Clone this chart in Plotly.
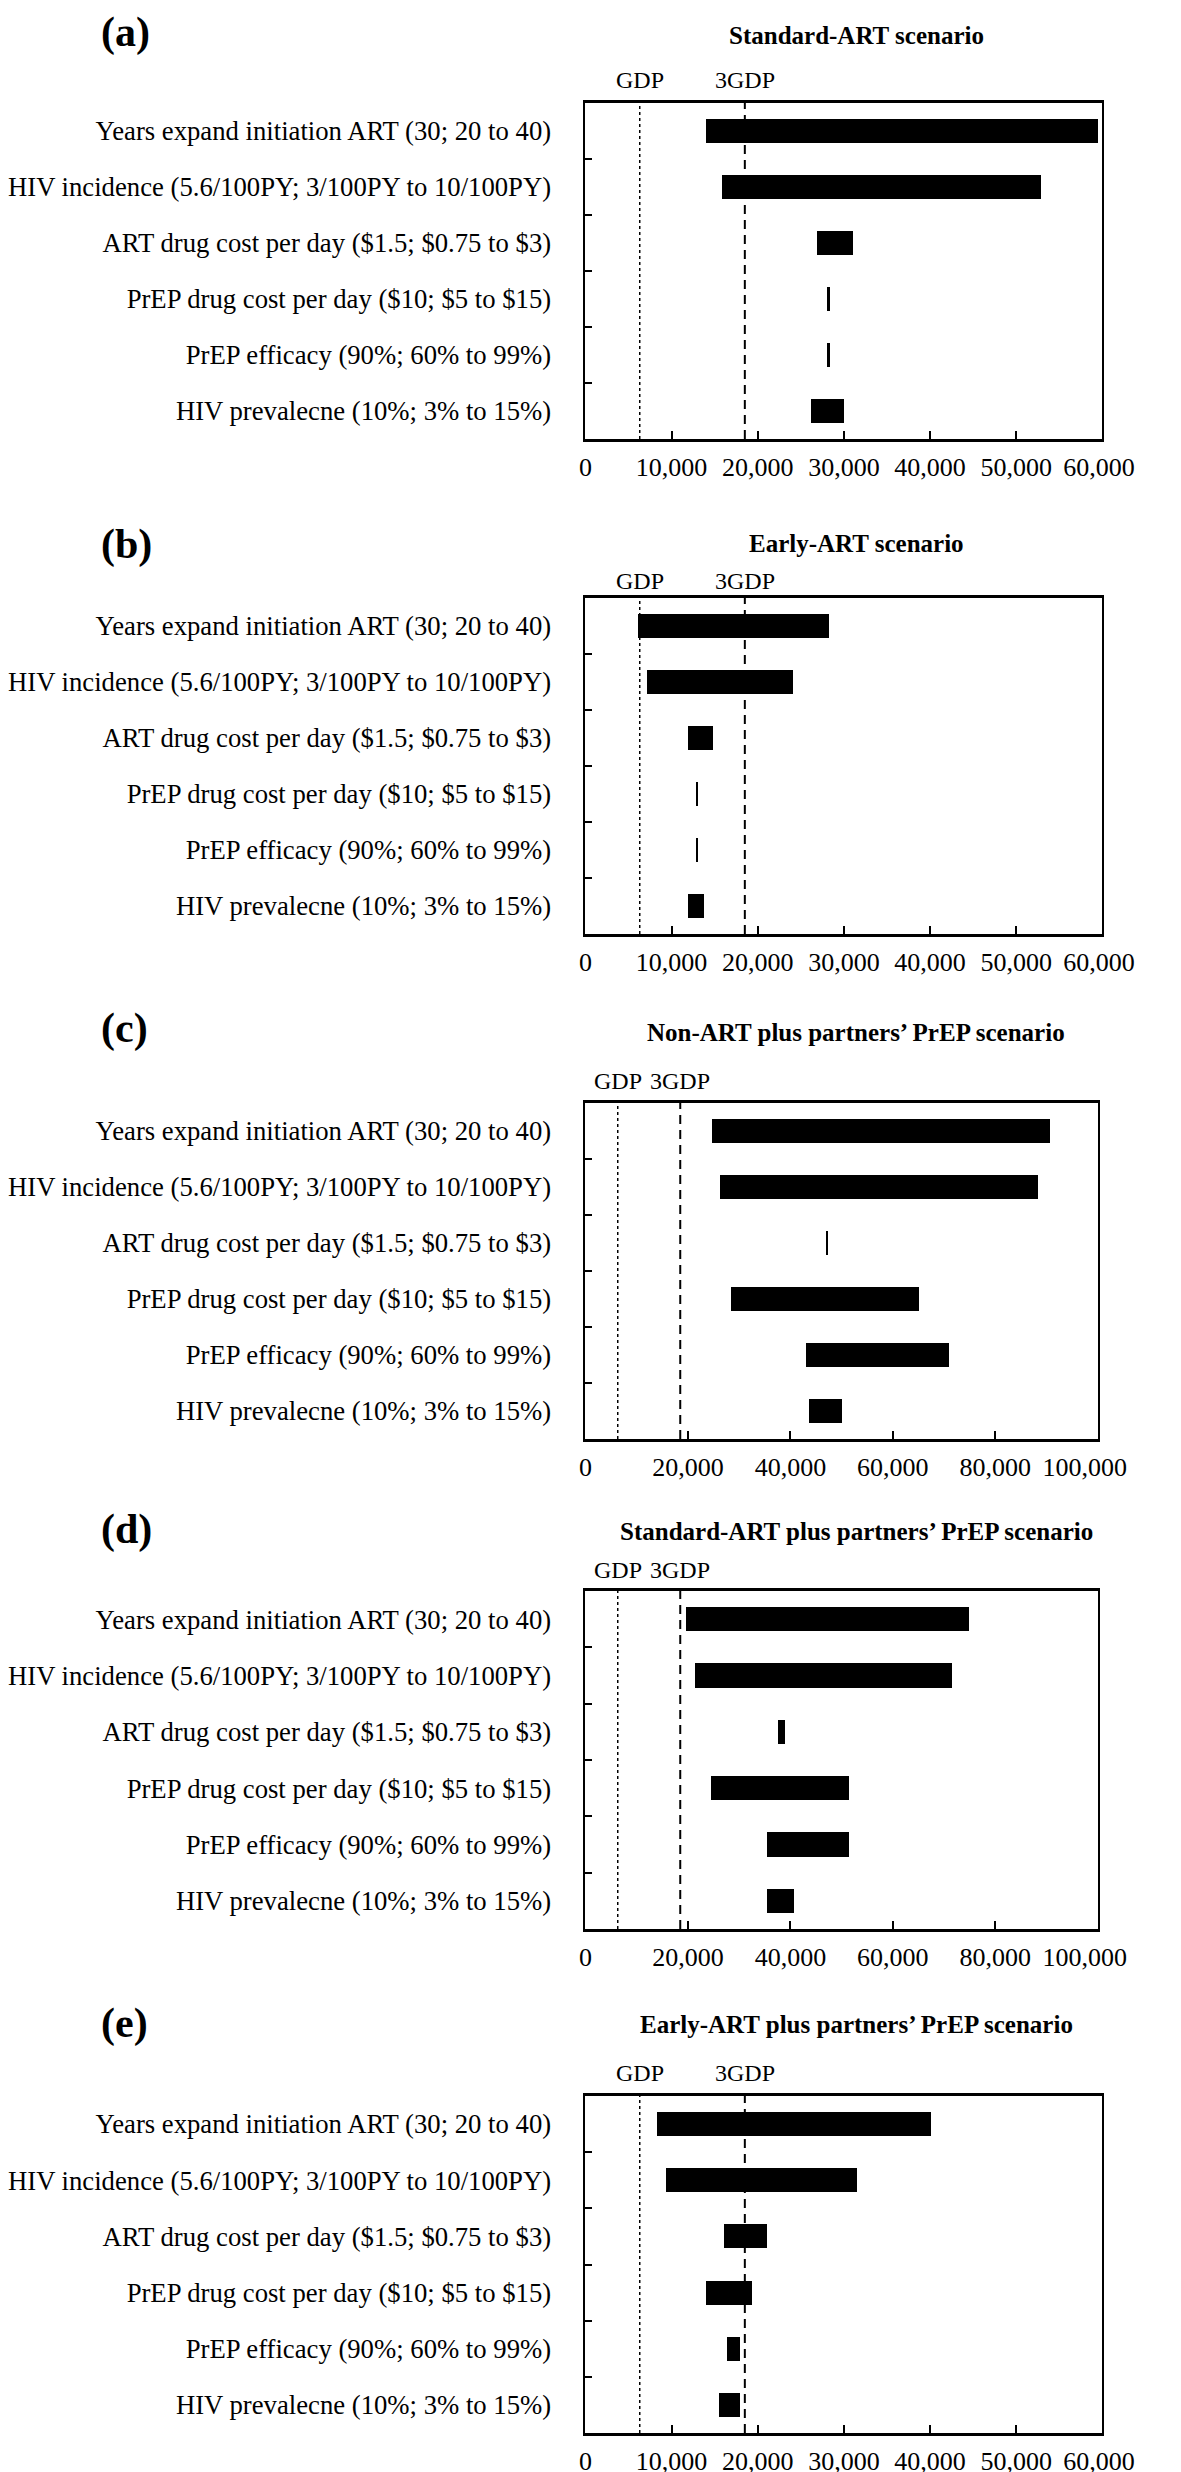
import plotly.graph_objects as go

# ---------------- data ----------------
categories = [
    "Years expand initiation ART (30; 20 to 40)",
    "HIV incidence (5.6/100PY; 3/100PY to 10/100PY)",
    "ART drug cost per day ($1.5; $0.75 to $3)",
    "PrEP drug cost per day ($10; $5 to $15)",
    "PrEP efficacy (90%; 60% to 99%)",
    "HIV prevalecne (10%; 3% to 15%)",
]

panel_letters = ["(a)", "(b)", "(c)", "(d)", "(e)"]
panel_titles = [
    "Standard-ART scenario",
    "Early-ART scenario",
    "Non-ART plus partners\u2019 PrEP scenario",
    "Standard-ART plus partners\u2019 PrEP scenario",
    "Early-ART plus partners\u2019 PrEP scenario",
]

a_low = [14000, 15900, 26900, 28100, 28100, 26200]
a_high = [59500, 52900, 31100, 28450, 28450, 30100]
b_low = [6200, 7200, 11900, 12850, 12850, 12000]
b_high = [28350, 24150, 14900, 13150, 13150, 13800]
c_low = [24700, 26400, 47100, 28400, 43100, 43700]
c_high = [90800, 88500, 47500, 65200, 71100, 50100]
d_low = [19700, 21500, 37700, 24500, 35600, 35500]
d_high = [74900, 71600, 39100, 51500, 51500, 40800]
e_low = [8300, 9400, 16100, 14100, 16500, 15600]
e_high = [40200, 31600, 21100, 19400, 18000, 18000]

lows = [a_low, b_low, c_low, d_low, e_low]
highs = [a_high, b_high, c_high, d_high, e_high]

gdp = 6300
gdp3 = 18500
threshold_labels = ["GDP", "3GDP"]

x_max = [60000, 60000, 100000, 100000, 60000]
x_tickvals_60 = [0, 10000, 20000, 30000, 40000, 50000, 60000]
x_tickvals_100 = [0, 20000, 40000, 60000, 80000, 100000]

# ---------------- layout geometry (pixels) ----------------
W, H = 1181, 2472
box_left = 575
box_right = [1146, 1146, 1141, 1141, 1146]
box_top = [95, 590, 1095, 1583, 2088]
box_bot = [431, 926, 1431, 1921, 2425]
letter_y = [25, 537, 1020, 1521, 2015]
title_y = [27, 535, 1025, 1523, 2017]
gdp_label_y = [72, 573, 1073, 1562, 2065]

FONT = "Liberation Serif, Times New Roman, Times, serif"
NBSP = "\u00a0"


def py(p):
    return 1 - p / H


def tick_text(vals, pad):
    out = [f"{v:,}" for v in vals]
    out[-1] = out[-1] + NBSP * pad   # nudge the right-most label inside the page
    return out


fig = go.Figure()
annotations = []
shapes = []

for i in range(5):
    n = "" if i == 0 else str(i + 1)
    xa, ya = "x" + n, "y" + n
    widths = [h - l for l, h in zip(lows[i], highs[i])]
    fig.add_trace(go.Bar(
        y=categories, x=widths, base=lows[i], orientation="h",
        marker=dict(color="black", line=dict(width=0)),
        width=0.43, xaxis=xa, yaxis=ya, showlegend=False,
    ))
    if x_max[i] == 60000:
        tv, tt = x_tickvals_60, tick_text(x_tickvals_60, 1)
    else:
        tv, tt = x_tickvals_100, tick_text(x_tickvals_100, 4)
    fig.layout["xaxis" + n] = dict(
        domain=[box_left / W, box_right[i] / W],
        anchor=ya, range=[0, x_max[i]],
        tickmode="array", tickvals=tv, ticktext=tt,
        ticks="inside", ticklen=8, tickwidth=1.5, tickcolor="black",
        showline=True, linecolor="black", linewidth=2.5, mirror=True,
        showgrid=False, zeroline=False,
        tickfont=dict(family=FONT, size=26, color="black"),
        ticklabelstandoff=3, ticklabeloverflow="allow",
    )
    fig.layout["yaxis" + n] = dict(
        domain=[py(box_bot[i]), py(box_top[i])],
        anchor=xa, type="category",
        categoryorder="array", categoryarray=categories,
        autorange="reversed",
        tickson="boundaries",
        ticks="inside", ticklen=7, tickwidth=1.5, tickcolor="black",
        showline=True, linecolor="black", linewidth=2, mirror=True,
        showgrid=False, zeroline=False,
        tickfont=dict(family=FONT, size=26.7, color="black"),
        ticklabelstandoff=27,
    )
    # threshold lines
    shapes.append(dict(type="line", xref=xa, yref=ya + " domain",
                       x0=gdp, x1=gdp, y0=0, y1=1,
                       line=dict(color="black", width=1.5, dash="dot")))
    shapes.append(dict(type="line", xref=xa, yref=ya + " domain",
                       x0=gdp3, x1=gdp3, y0=0, y1=1,
                       line=dict(color="black", width=2, dash="9px,6px")))
    for val, lab in zip([gdp, gdp3], threshold_labels):
        annotations.append(dict(x=val, xref=xa, y=py(gdp_label_y[i]), yref="paper",
                                text=lab, showarrow=False, xanchor="center", yanchor="middle",
                                font=dict(family=FONT, size=24, color="black")))
    annotations.append(dict(x=38 / W, xref="paper", y=py(letter_y[i]), yref="paper",
                            text="<b>" + panel_letters[i] + "</b>", showarrow=False,
                            xanchor="left", yanchor="middle",
                            font=dict(family=FONT, size=42, color="black")))
    annotations.append(dict(x=874 / W, xref="paper", y=py(title_y[i]), yref="paper",
                            text="<b>" + panel_titles[i] + "</b>", showarrow=False,
                            xanchor="center", yanchor="middle",
                            font=dict(family=FONT, size=25, color="black")))

fig.update_layout(
    width=W, height=H,
    margin=dict(l=0, r=0, t=0, b=0),
    paper_bgcolor="white", plot_bgcolor="white",
    annotations=annotations, shapes=shapes,
    bargap=0, showlegend=False,
)

fig.write_html("out.html")
